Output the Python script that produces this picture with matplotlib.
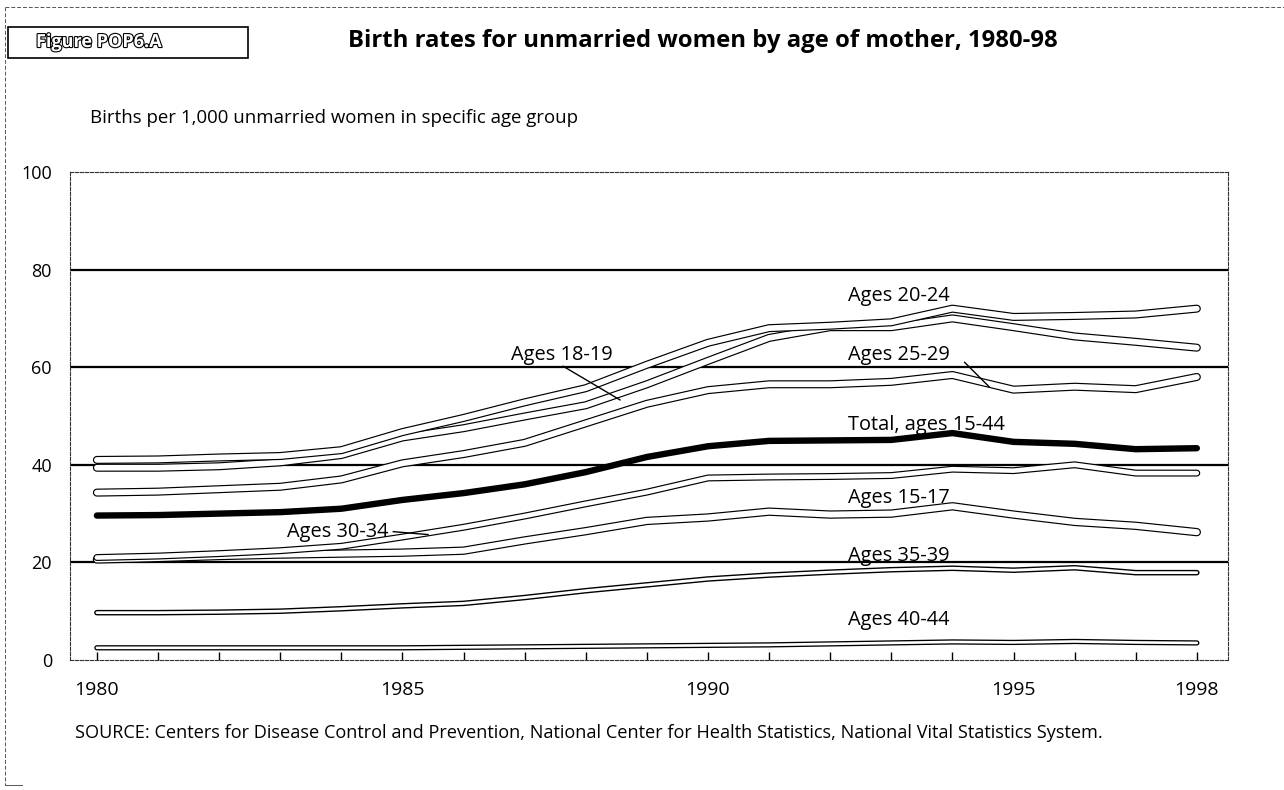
import matplotlib
matplotlib.use("Agg")
import matplotlib.pyplot as plt
import matplotlib.patheffects as pe
from matplotlib.lines import Line2D
from matplotlib.patches import Rectangle

plt.rcParams['font.family'] = ['Open Sans', 'DejaVu Sans']

years = list(range(1980, 1999))
total = [29.6, 29.7, 30.0, 30.3, 31.0, 32.8, 34.2, 36.0, 38.5, 41.6, 43.8, 44.9, 45.0, 45.1, 46.5, 44.7, 44.3, 43.2, 43.4]
age_15_17 = [20.6, 20.9, 21.3, 21.6, 21.8, 22.0, 22.4, 24.5, 26.4, 28.5, 29.2, 30.4, 29.8, 30.0, 31.5, 29.8, 28.3, 27.5, 26.2]
age_18_19 = [39.4, 39.4, 39.7, 40.5, 42.0, 45.6, 47.5, 49.9, 52.2, 56.5, 61.3, 66.0, 68.2, 68.2, 70.0, 68.2, 66.3, 65.2, 64.0]
age_20_24 = [41.0, 41.1, 41.5, 41.8, 43.0, 46.7, 49.6, 52.8, 55.7, 60.5, 65.0, 68.0, 68.5, 69.2, 72.0, 70.3, 70.5, 70.8, 72.0]
age_25_29 = [34.3, 34.5, 35.0, 35.5, 37.0, 40.3, 42.2, 44.5, 48.5, 52.5, 55.3, 56.5, 56.5, 57.0, 58.4, 55.4, 56.0, 55.5, 58.0]
age_30_34 = [21.0, 21.3, 21.8, 22.4, 23.3, 25.2, 27.2, 29.5, 32.0, 34.4, 37.3, 37.5, 37.6, 37.8, 39.1, 38.8, 40.0, 38.3, 38.3]
age_35_39 = [9.7, 9.7, 9.8, 10.0, 10.5, 11.1, 11.6, 12.8, 14.2, 15.4, 16.6, 17.4, 18.0, 18.5, 18.8, 18.4, 18.9, 17.9, 17.9]
age_40_44 = [2.5, 2.5, 2.5, 2.5, 2.5, 2.5, 2.6, 2.7, 2.8, 2.9, 3.0, 3.1, 3.3, 3.5, 3.7, 3.6, 3.8, 3.6, 3.5]

xtick_years = [1980, 1985, 1990, 1995, 1998]
ytick_vals = [0, 20, 40, 60, 80, 100]
grid_vals = [20, 40, 60, 80]

W, H = 1284, 790
fig = plt.figure(figsize=(W / 100, H / 100), dpi=100)
fig.patch.set_facecolor('white')

def fx(px):
    return px / W

def fy(py):
    return 1 - py / H

ax = fig.add_axes([fx(70), fy(660), fx(1228) - fx(70), fy(172) - fy(660)])
ax.set_xlim(1979.56, 1998.51)
ax.set_ylim(0, 100)

for sp in ax.spines.values():
    sp.set_linestyle((0, (3, 1.5)))
    sp.set_linewidth(0.8)
    sp.set_color('#333333')

for g in grid_vals:
    ax.axhline(g, color='black', lw=1.6, zorder=1)

def hollow(y, outer, inner, z):
    ax.plot(years, y, color='white', lw=inner, solid_capstyle='round',
            solid_joinstyle='round', zorder=z,
            path_effects=[pe.Stroke(linewidth=outer, foreground='black',
                                    capstyle='round', joinstyle='round'),
                          pe.Normal()])

hollow(age_40_44, 3.8, 1.9, 3)
hollow(age_35_39, 4.0, 2.0, 3.1)
hollow(age_15_17, 6.0, 4.3, 3.2)
hollow(age_30_34, 5.0, 3.3, 3.3)
ax.plot(years, total, color='black', lw=4.6, solid_capstyle='round',
        solid_joinstyle='round', zorder=3.4)
hollow(age_25_29, 5.8, 4.1, 3.5)
hollow(age_18_19, 5.8, 4.1, 3.6)
hollow(age_20_24, 5.8, 4.1, 3.7)

ax.set_xticks(xtick_years)
ax.set_xticklabels([str(v) for v in xtick_years])
ax.set_xticks(years, minor=True)
ax.tick_params(axis='x', which='both', direction='in', length=6, width=1.0,
               labelsize=14, pad=15, color='black')
ax.set_yticks(ytick_vals)
ax.set_yticklabels([str(v) for v in ytick_vals])
ax.tick_params(axis='y', which='both', length=0, labelsize=13, pad=13)

fs = 14.4
xl = 1992.29
ax.text(xl, 74.5, 'Ages 20-24', fontsize=fs, ha='left', va='center', zorder=5)
ax.text(1986.78, 62.6, 'Ages 18-19', fontsize=fs, ha='left', va='center', zorder=5)
ax.plot([1987.63, 1988.56], [60.2, 53.3], color='black', lw=1.0, zorder=5)
ax.text(xl, 62.6, 'Ages 25-29', fontsize=fs, ha='left', va='center', zorder=5)
ax.plot([1994.2, 1994.6], [61.0, 56.0], color='black', lw=1.0, zorder=5)
ax.text(xl, 48.1, 'Total, ages 15-44', fontsize=fs, ha='left', va='center', zorder=5)
ax.text(xl, 33.2, 'Ages 15-17', fontsize=fs, ha='left', va='center', zorder=5)
ax.text(1983.11, 26.2, 'Ages 30-34', fontsize=fs, ha='left', va='center', zorder=5)
ax.plot([1984.85, 1985.42], [26.3, 25.7], color='black', lw=1.0, zorder=5)
ax.text(xl, 21.4, 'Ages 35-39', fontsize=fs, ha='left', va='center', zorder=5)
ax.text(xl, 8.2, 'Ages 40-44', fontsize=fs, ha='left', va='center', zorder=5)

# page frame
fig.add_artist(Line2D([fx(5), fx(1284)], [fy(7), fy(7)], color='#555555', lw=0.7,
                      linestyle=(0, (4, 2))))
fig.add_artist(Line2D([fx(5), fx(5)], [fy(7), fy(785)], color='#555555', lw=0.7,
                      linestyle=(0, (4, 2))))
fig.add_artist(Line2D([fx(5), fx(22)], [fy(785), fy(785)], color='#555555', lw=0.7))

# figure label box
fig.add_artist(Rectangle((fx(8), fy(58)), fx(248) - fx(8), fy(27) - fy(58),
                         fill=False, edgecolor='black', lw=1.2))
fig.text(fx(36), fy(42), 'Figure POP6.A', fontsize=13, fontweight='bold', color='white',
         ha='left', va='center',
         path_effects=[pe.Stroke(linewidth=1.6, foreground='black'), pe.Normal()])

fig.text(fx(348), fy(41), 'Birth rates for unmarried women by age of mother, 1980-98',
         fontsize=17.2, fontweight='bold', ha='left', va='center')
fig.text(fx(90), fy(118), 'Births per 1,000 unmarried women in specific age group',
         fontsize=13.4, ha='left', va='center')
fig.text(fx(75), fy(733), 'SOURCE: Centers for Disease Control and Prevention, National Center for Health Statistics, National Vital Statistics System.',
         fontsize=13.1, ha='left', va='center')

fig.savefig('out.png', dpi=100, facecolor='white')
